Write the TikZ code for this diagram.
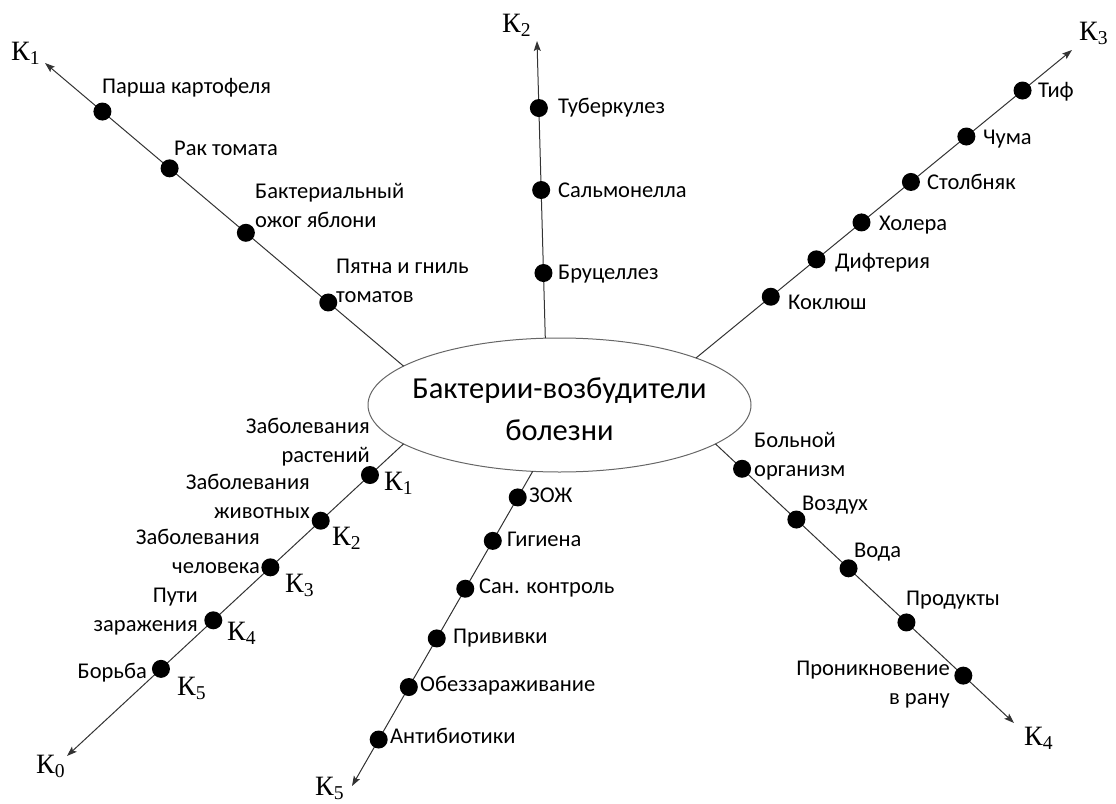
\documentclass[tikz,border=0pt]{standalone}
\usepackage{fontspec}
\setmainfont{Carlito}
\newfontfamily\kfont{Liberation Serif}
\usetikzlibrary{shapes.geometric,arrows.meta,calc}

\begin{document}
\begin{tikzpicture}[x=1pt,y=-1pt,
  axis/.style={draw=black!80, line width=1pt, -{Stealth[length=10pt,width=7pt,inset=2pt]}},
  dot/.style={circle, fill=black, inner sep=0pt, minimum size=18pt},
  lbl/.style={inner sep=0pt, font=\fontsize{22.5}{29}\selectfont},
  klbl/.style={inner sep=0pt, anchor=base west, font=\kfont\fontsize{28}{30}\selectfont},
  core/.style={ellipse, draw=black!60, line width=1pt, minimum width=383pt,
    minimum height=134pt, inner sep=0pt, outer sep=0pt}
]
\useasboundingbox (0,0) rectangle (1116,803);

% central ellipse
\node[core] (e) at (559.5,405) {};
\node[inner sep=0pt, anchor=base, font=\fontsize{30.5}{42}\selectfont] (title) at (559.5,398)
  {\begin{tabular}[t]{@{}c@{}}Бактерии-возбудители\\болезни\end{tabular}};

% start points on the ellipse and arrow tips
\coordinate (s1) at (e.166);  \coordinate (t1) at (45,63);
\coordinate (s2) at (e.102);  \coordinate (t2) at (537,41);
\coordinate (s3) at (e.19);   \coordinate (t3) at (1072,50);
\coordinate (s4) at (e.346);  \coordinate (t4) at (1014,723);
\coordinate (s5) at (e.248);  \coordinate (t5) at (352,786);
\coordinate (s0) at (e.194);  \coordinate (t0) at (67,756);

\draw[axis] (s1) -- (t1);
\draw[axis] (s2) -- (t2);
\draw[axis] (s3) -- (t3);
\draw[axis] (s4) -- (t4);
\draw[axis] (s5) -- (t5);
\draw[axis] (s0) -- (t0);

% axis end labels
\node[klbl] (k1) at (11,60) {К\textsubscript{1}};
\node[klbl] (k2) at (502,32) {К\textsubscript{2}};
\node[klbl] (k3) at (1079,40) {К\textsubscript{3}};
\node[klbl] (k4) at (1024,745) {К\textsubscript{4}};
\node[klbl] (k5) at (315,795) {К\textsubscript{5}};
\node[klbl] (k0) at (36,773) {К\textsubscript{0}};

% plant diseases
\node[dot] (p1) at ($(s1)!(102,112)!(t1)$) {};
\node[dot] (p2) at ($(s1)!(169,169)!(t1)$) {};
\node[dot] (p3) at ($(s1)!(244,235)!(t1)$) {};
\node[dot] (p4) at ($(s1)!(327,304)!(t1)$) {};
\node[lbl, anchor=base west] (lp1) at (102,93) {Парша картофеля};
\node[lbl, anchor=base west] (lp2) at (174,155) {Рак томата};
\node[lbl, anchor=base west] (lp3) at (255,198)
  {\begin{tabular}[t]{@{}l@{}}Бактериальный\\ожог яблони\end{tabular}};
\node[lbl, anchor=base west] (lp4) at (336,273)
  {\begin{tabular}[t]{@{}l@{}}Пятна и гниль\\томатов\end{tabular}};

% animal diseases
\node[dot] (a1) at ($(s2)!(539,108)!(t2)$) {};
\node[dot] (a2) at ($(s2)!(541,190)!(t2)$) {};
\node[dot] (a3) at ($(s2)!(544,273)!(t2)$) {};
\node[lbl, anchor=base west] (la1) at (558,113) {Туберкулез};
\node[lbl, anchor=base west] (la2) at (558,197) {Сальмонелла};
\node[lbl, anchor=base west] (la3) at (558,279) {Бруцеллез};

% human diseases
\node[dot] (h1) at ($(s3)!(1023,91)!(t3)$) {};
\node[dot] (h2) at ($(s3)!(966,136)!(t3)$) {};
\node[dot] (h3) at ($(s3)!(911,182)!(t3)$) {};
\node[dot] (h4) at ($(s3)!(862,223)!(t3)$) {};
\node[dot] (h5) at ($(s3)!(817,260)!(t3)$) {};
\node[dot] (h6) at ($(s3)!(771,297)!(t3)$) {};
\node[lbl, anchor=base west] (lh1) at (1038,97) {Тиф};
\node[lbl, anchor=base west] (lh2) at (983,144) {Чума};
\node[lbl, anchor=base west] (lh3) at (927,189) {Столбняк};
\node[lbl, anchor=base west] (lh4) at (879,230) {Холера};
\node[lbl, anchor=base west] (lh5) at (835,268) {Дифтерия};
\node[lbl, anchor=base west] (lh6) at (788,309) {Коклюш};

% routes of infection
\node[dot] (r1) at ($(s4)!(740,471)!(t4)$) {};
\node[dot] (r2) at ($(s4)!(795,521)!(t4)$) {};
\node[dot] (r3) at ($(s4)!(847,570)!(t4)$) {};
\node[dot] (r4) at ($(s4)!(905,624)!(t4)$) {};
\node[dot] (r5) at ($(s4)!(963,676)!(t4)$) {};
\node[lbl, anchor=base west] (lr1) at (754,447)
  {\begin{tabular}[t]{@{}l@{}}Больной\\организм\end{tabular}};
\node[lbl, anchor=base west] (lr2) at (802,510) {Воздух};
\node[lbl, anchor=base west] (lr3) at (854,557) {Вода};
\node[lbl, anchor=base west] (lr4) at (906,605) {Продукты};
\node[lbl, anchor=base east] (lr5) at (950,675)
  {\begin{tabular}[t]{@{}r@{}}Проникновение\\в рану\end{tabular}};

% control measures
\node[dot] (c1) at ($(s5)!(517,497)!(t5)$) {};
\node[dot] (c2) at ($(s5)!(493,541)!(t5)$) {};
\node[dot] (c3) at ($(s5)!(464,588)!(t5)$) {};
\node[dot] (c4) at ($(s5)!(436,638)!(t5)$) {};
\node[dot] (c5) at ($(s5)!(407,686)!(t5)$) {};
\node[dot] (c6) at ($(s5)!(376,738)!(t5)$) {};
\node[lbl, anchor=base west] (lc1) at (529,502) {ЗОЖ};
\node[lbl, anchor=base west] (lc2) at (507,546) {Гигиена};
\node[lbl, anchor=base west] (lc3) at (479,593) {Сан. контроль};
\node[lbl, anchor=base west] (lc4) at (453,643) {Прививки};
\node[lbl, anchor=base west] (lc5) at (420,691) {Обеззараживание};
\node[lbl, anchor=base west] (lc6) at (390,743) {Антибиотики};

% overview axis
\node[dot] (o1) at ($(s0)!(369,474)!(t0)$) {};
\node[dot] (o2) at ($(s0)!(321,521)!(t0)$) {};
\node[dot] (o3) at ($(s0)!(271,568)!(t0)$) {};
\node[dot] (o4) at ($(s0)!(213,620)!(t0)$) {};
\node[dot] (o5) at ($(s0)!(162,670)!(t0)$) {};
\node[lbl, anchor=base east] (lo1) at (370,433)
  {\begin{tabular}[t]{@{}r@{}}Заболевания\\растений\end{tabular}};
\node[lbl, anchor=base east] (lo2) at (310,489)
  {\begin{tabular}[t]{@{}r@{}}Заболевания\\животных\end{tabular}};
\node[lbl, anchor=base east] (lo3) at (260,544)
  {\begin{tabular}[t]{@{}r@{}}Заболевания\\человека\end{tabular}};
\node[lbl, anchor=base east] (lo4) at (198,602)
  {\begin{tabular}[t]{@{}r@{}}Пути\\заражения\end{tabular}};
\node[lbl, anchor=base east] (lo5) at (147,678) {Борьба};
\node[klbl] (ko1) at (384,490) {К\textsubscript{1}};
\node[klbl] (ko2) at (332,545) {К\textsubscript{2}};
\node[klbl] (ko3) at (285,592) {К\textsubscript{3}};
\node[klbl] (ko4) at (227,640) {К\textsubscript{4}};
\node[klbl] (ko5) at (177,695) {К\textsubscript{5}};
\end{tikzpicture}
\end{document}
